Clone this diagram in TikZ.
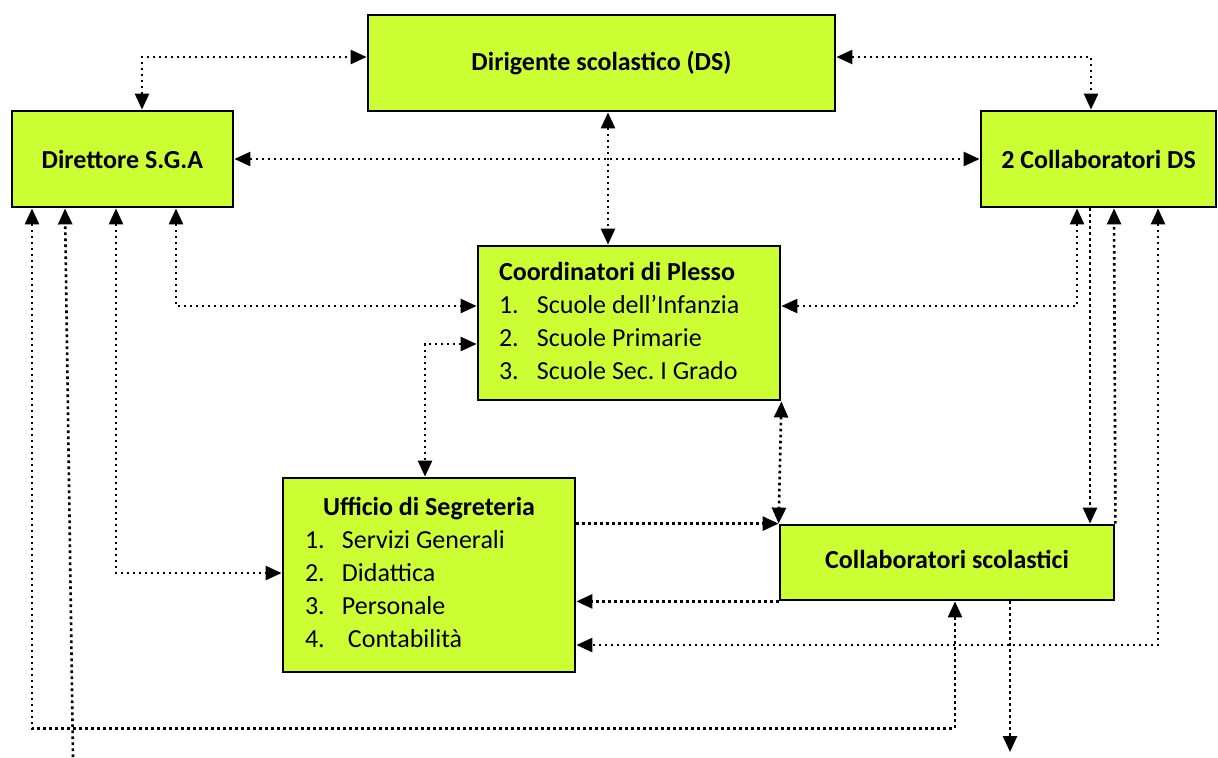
\documentclass[tikz,border=0pt]{standalone}
\usepackage{fontspec}
\setmainfont{Carlito}
\usepackage{array}
\usetikzlibrary{arrows.meta}
\frenchspacing
\definecolor{boxgreen}{RGB}{204,255,51}
\tikzset{>={Triangle[length=8pt,width=7pt]}}
\tikzset{box/.style={draw, fill=boxgreen, line width=1.4pt, inner sep=0pt, font=\fontsize{13}{16.5}\selectfont},
  link/.style={line width=1.3pt, dash pattern=on 1.3pt off 1.7pt}}

\begin{document}
\begin{tikzpicture}[x=0.5pt,y=-0.5pt]
    \useasboundingbox (0,0) rectangle (1218,757);
    \node[box, minimum width=233.5pt, minimum height=48pt] (ds) at (601.5,63) {\textbf{Dirigente scolastico (DS)}};
    \node[box, minimum width=110.5pt, minimum height=48pt] (dsga) at (122.5,159) {\textbf{Direttore S.G.A}};
    \node[box, minimum width=117.5pt, minimum height=48pt] (collds) at (1098.5,159) {\textbf{2 Collaboratori DS}};
    \node[box, minimum width=151pt, minimum height=77pt] (coord) at (629,323) {%
      \begin{tabular}{@{}p{19pt}@{}p{111pt}@{}}
        \multicolumn{2}{@{}l@{}}{\textbf{Coordinatori di Plesso}}\\
        1. & Scuole dell’Infanzia\\
        2. & Scuole Primarie\\
        3. & Scuole Sec. I Grado
      \end{tabular}};
    \node[box, minimum width=146pt, minimum height=97pt] (uff) at (429,575) {%
      \begin{tabular}{@{}p{18.5pt}@{}p{105.5pt}@{}}
        \multicolumn{2}{@{}c@{}}{\textbf{Ufficio di Segreteria}}\\
        1. & Servizi Generali\\
        2. & Didattica\\
        3. & Personale\\
        4. & \hspace{3pt}Contabilità
      \end{tabular}};
    \node[box, minimum width=167pt, minimum height=37.5pt] (collsc) at (947,562.5) {\raisebox{3pt}{\textbf{Collaboratori scolastici}}\hspace{9pt}};
    \coordinate (sgaend) at (73,757);
    \coordinate (collscend) at (1010,752);
    \draw[link,<->] (dsga.north -| 142,0) |- (ds.west |- 0,57);
    \draw[link,<->] (ds.east |- 0,57) -| (collds.north -| 1091,0);
    \draw[link,<->] (dsga.east) -- (collds.west);
    \draw[link,<->] (ds.south -| 608,0) -- (coord.north -| 608,0);
    \draw[link,<->] (dsga.south -| 176,0) |- (coord.west |- 0,306);
    \draw[link,<->] (coord.west |- 0,344) -| (uff.north -| 425,0);
    \draw[link,<->] (dsga.south -| 116,0) |- (uff.west |- 0,573);
    \draw[link,<->] (dsga.south -| 32,0) -- ++(0,520) -| (collsc.south -| 955,0);
    \draw[link,->] (sgaend) -- (dsga.south -| 65,0);
    \draw[link,<->] (collds.south -| 1077,0) |- (coord.east |- 0,306);
    \draw[link,->] (collds.south -| 1090,0) -- (collsc.north -| 1090,0);
    \draw[link,->] (collsc.north east) -- (collds.south -| 1114,0);
    \draw[link,<->] (collds.south -| 1158,0) |- (uff.east |- 0,645);
    \draw[link,<->] (coord.south east) -- (collsc.north west);
    \draw[link,->] (uff.east |- collsc.north) -- (collsc.north west);
    \draw[link,->] (collsc.south west) -- (uff.east |- collsc.south);
    \draw[link,->] (collsc.south -| 1010,0) -- (collscend);
    \end{tikzpicture}
\end{document}
